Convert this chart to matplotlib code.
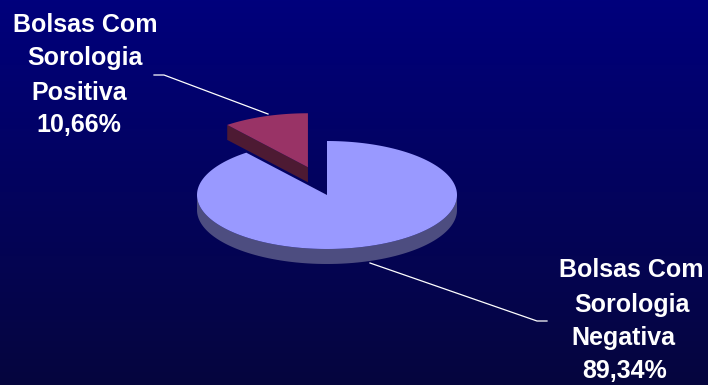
import matplotlib.pyplot as plt
import numpy as np
from matplotlib.patches import Polygon

# data
categories = ['Bolsas Com Sorologia Negativa', 'Bolsas Com Sorologia Positiva']
values = [89.34, 10.66]
label_lines = [['Bolsas Com', 'Sorologia', 'Negativa', '89,34%'],
               ['Bolsas Com', 'Sorologia', 'Positiva', '10,66%']]
top_colors = ['#9999ff', '#993366']
side_colors = ['#4d4d80', '#4d1a33']
explode = [0, 58]

W, H = 708, 385
cx, cy = 327, 195
rx, ry = 130, 54
depth = 15
lift = 5


def pt(t, ox, oy, r=1.0, dz=0):
    return (cx + ox + r * rx * np.cos(t), cy + oy - r * ry * np.sin(t) + dz)


def main():
    plt.rcParams['font.family'] = ['Liberation Sans', 'DejaVu Sans']
    fig = plt.figure(figsize=(W / 100, H / 100), dpi=100)
    ax = fig.add_axes([0, 0, 1, 1])
    ax.set_xlim(0, W)
    ax.set_ylim(H, 0)
    ax.axis('off')

    # background gradient
    grad = np.linspace(0, 1, 256)[:, None]
    top = np.array([0x00, 0x00, 0x7c]) / 255
    bot = np.array([0x06, 0x06, 0x3e]) / 255
    img = top[None, None, :] * (1 - grad[..., None]) + bot[None, None, :] * grad[..., None]
    ax.imshow(img, extent=[0, W, H, 0], aspect='auto', zorder=0)

    # slice angles, clockwise from 12 o'clock
    total = sum(values)
    angles = []
    start = 90.0
    for v in values:
        end = start - 360 * v / total
        angles.append((end, start))
        start = end

    # back slice (positive) first, then front slice
    for i in [1, 0]:
        a0, a1 = np.radians(angles[i][0]), np.radians(angles[i][1])
        mid = (a0 + a1) / 2
        ox = explode[i] * np.cos(mid)
        oy = -explode[i] * np.sin(mid) * ry / rx - (lift if explode[i] else 0)

        # front curved wall
        lo, hi = max(a0, np.radians(-180)), min(a1, 0.0)
        if hi > lo:
            ts = np.linspace(lo, hi, 100)
            upper = [pt(t, ox, oy) for t in ts]
            lower = [pt(t, ox, oy, dz=depth) for t in ts[::-1]]
            ax.add_patch(Polygon(upper + lower, closed=True, fc=side_colors[i],
                                 ec='none', zorder=2))

        # radial walls facing the viewer
        for edge, sign in [(a0, -1), (a1, 1)]:
            normal = edge + sign * np.pi / 2
            if np.sin(normal) < -0.05 and explode[i] > 0:
                c0 = (cx + ox, cy + oy)
                quad = [c0, pt(edge, ox, oy), pt(edge, ox, oy, dz=depth),
                        (c0[0], c0[1] + depth)]
                ax.add_patch(Polygon(quad, closed=True, fc=side_colors[i],
                                     ec='none', zorder=2))

        # top surface
        ts = np.linspace(a0, a1, 200)
        poly = [(cx + ox, cy + oy)] + [pt(t, ox, oy) for t in ts]
        ax.add_patch(Polygon(poly, closed=True, fc=top_colors[i], ec='none', zorder=3))

    # leader lines
    ax.plot([154, 164, 268], [75, 75, 114], color='white', lw=0.9, zorder=4)
    ax.plot([370, 537, 547], [263, 321, 321], color='white', lw=0.9, zorder=4)

    # labels, one line at a time
    fs = 18
    pos = [([631, 632, 623, 625], [277, 312, 345, 378]),
           ([85, 85, 79, 79], [32, 65, 100, 132])]
    for i in range(len(values)):
        xs, ys = pos[i]
        for line, x, y in zip(label_lines[i], xs, ys):
            ax.text(x, y, line, ha='center', va='baseline', color='white',
                    fontsize=fs, fontweight='bold', zorder=5)

    fig.savefig('out.png', dpi=100)


if __name__ == "__main__":
    main()
